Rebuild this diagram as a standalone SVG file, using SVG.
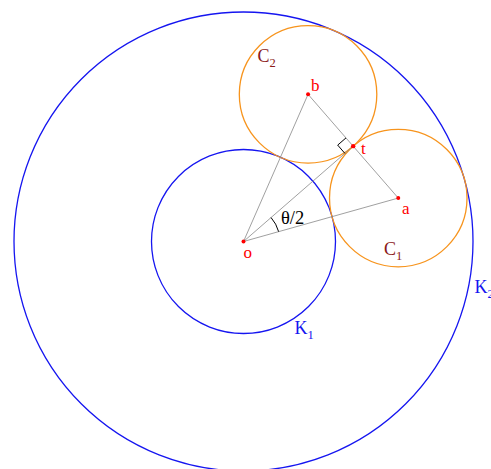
<svg xmlns="http://www.w3.org/2000/svg" width="491" height="469" viewBox="0 0 491 469">
<style>
.k{fill:none;stroke:#1515f0;stroke-width:1.3}
.c{fill:none;stroke:#f7941d;stroke-width:1.3}
.ln{fill:none;stroke:#888;stroke-width:0.8}
.pt{fill:#f00}
text{font-family:"Liberation Serif","Times New Roman",serif}
.rl{fill:#f00;font-size:17px}
.cl{fill:#8b1a1a;font-size:18px}
.kl{fill:#1515f0;font-size:18px}
.sub{font-size:12.5px}
</style>
<rect width="491" height="469" fill="#fff"/>
<g id="K2"><circle class="k" cx="243.5" cy="241.5" r="229.5"/><text class="kl" x="474.5" y="292.5">K<tspan class="sub" dy="5">2</tspan></text></g>
<g id="K1"><circle class="k" cx="243.5" cy="241.5" r="92"/><text class="kl" x="294.5" y="333.5">K<tspan class="sub" dy="5">1</tspan></text></g>
<g id="C2"><circle class="c" cx="308.06" cy="94.3" r="68.75"/><text class="cl" x="257.5" y="62">C<tspan class="sub" dy="5">2</tspan></text></g>
<g id="C1"><circle class="c" cx="398.27" cy="198.05" r="68.75"/><text class="cl" x="384" y="254.5">C<tspan class="sub" dy="5">1</tspan></text></g>
<g id="connectors">
<line class="ln" x1="243.5" y1="241.5" x2="308.06" y2="94.3"/>
<line class="ln" x1="243.5" y1="241.5" x2="398.27" y2="198.05"/>
<line class="ln" x1="243.5" y1="241.5" x2="353.17" y2="146.17"/>
<line class="ln" x1="308.06" y1="94.3" x2="398.27" y2="198.05"/>
<path d="M346.0,137.9 L337.7,145.1 L344.9,153.4" fill="none" stroke="#000" stroke-width="1"/>
<path d="M271.05,217.55 A36.5,36.5 0 0 1 278.64,231.63" fill="none" stroke="#000" stroke-width="1"/>
</g>
<g id="o"><circle class="pt" cx="243.5" cy="241.5" r="2"/><text class="rl" x="243.5" y="258">o</text></g>
<g id="b"><circle class="pt" cx="308.06" cy="94.3" r="2"/><text class="rl" x="311" y="91">b</text></g>
<g id="a"><circle class="pt" cx="398.27" cy="198.05" r="2"/><text class="rl" x="402" y="214">a</text></g>
<g id="t"><circle class="pt" cx="353.17" cy="146.17" r="2.2"/><text class="rl" x="361" y="154">t</text></g>
<g id="angle"><text x="281" y="223.5" font-size="18.5" fill="#000" font-family="Liberation Sans, Arial, sans-serif">θ/2</text></g>
</svg>
